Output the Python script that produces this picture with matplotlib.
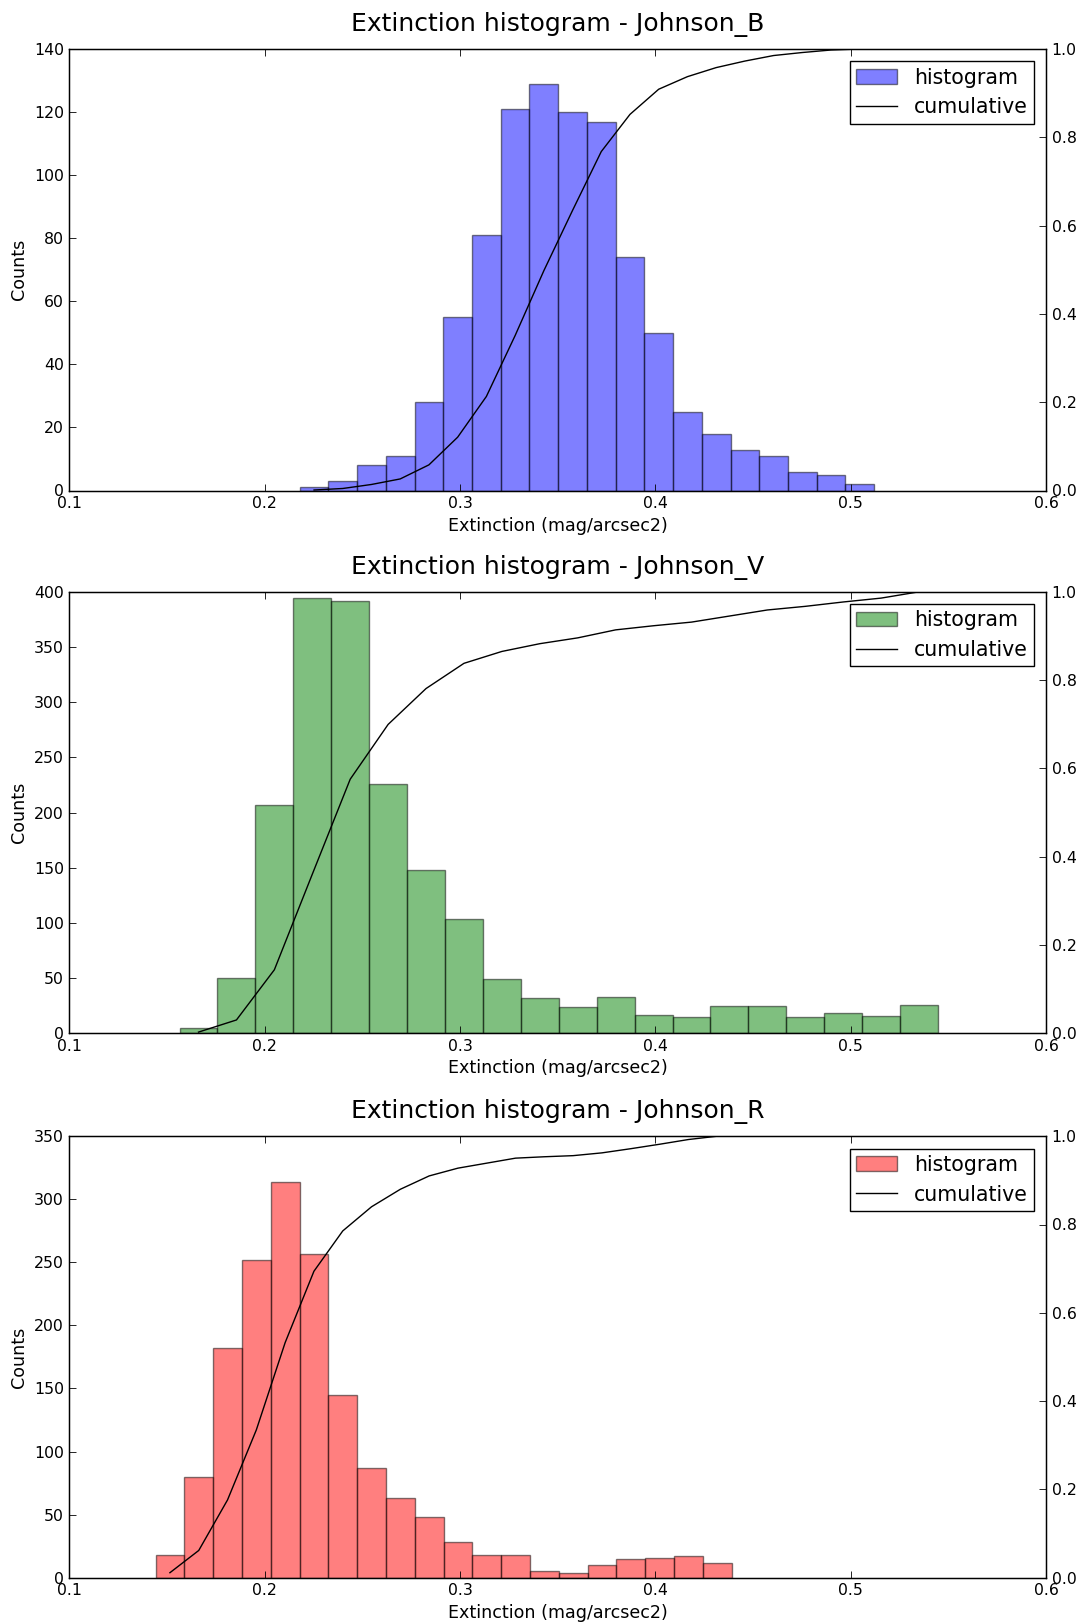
import numpy as np
import matplotlib
matplotlib.use('Agg')
import matplotlib.pyplot as plt
from matplotlib.patches import Patch
from matplotlib.lines import Line2D

plt.rcParams['font.family'] = ['DejaVu Sans']

# ---- data ----
filters = ['Johnson_B', 'Johnson_V', 'Johnson_R']
bar_colors = ['b', 'g', 'r']

B_range = (0.2179, 0.5120)
B_counts = [1, 3, 8, 11, 28, 55, 81, 121, 129, 120, 117, 74, 50, 25, 18, 13, 11, 6, 5, 2]

V_range = (0.1564, 0.5447)
V_counts = [5, 50, 207, 394, 392, 226, 148, 104, 49, 32, 24, 33, 17, 15, 25, 25, 15, 18, 16, 26]

R_range = (0.1441, 0.4390)
R_counts = [18, 80, 182, 252, 314, 257, 145, 87, 63, 48, 28, 18, 18, 5, 4, 10, 15, 16, 17, 12]

y_max = [140, 400, 350]
y_step = [20, 50, 50]
x_ticks = [0.1, 0.2, 0.3, 0.4, 0.5, 0.6]
cum_ticks = [0.0, 0.2, 0.4, 0.6, 0.8, 1.0]

ranges = [B_range, V_range, R_range]
counts_all = [B_counts, V_counts, R_counts]

W, H = 1085, 1622
fig = plt.figure(figsize=(W / 100, H / 100), dpi=100)

left = 69.4 / W
width = (1046 - 69.4) / W
height = 441.5 / H
bottoms = [1 - 490.5 / H, 1 - 1033.3 / H, 1 - 1577.7 / H]

TICK_FS = 11.3
LABEL_FS = 12.6
TITLE_FS = 18
LEG_FS = 14.8

for i in range(3):
    ax = fig.add_axes([left, bottoms[i], width, height])
    counts = np.array(counts_all[i], dtype=float)
    edges = np.linspace(ranges[i][0], ranges[i][1], len(counts) + 1)
    centers = 0.5 * (edges[:-1] + edges[1:])
    ax.hist(centers, bins=edges, weights=counts, color=bar_colors[i], alpha=0.5,
            edgecolor='k', linewidth=1.0)
    ax.set_xlim(0.1, 0.6)
    ax.set_ylim(0, y_max[i])
    ax.set_xticks(x_ticks)
    ax.set_xticklabels(['%.1f' % v for v in x_ticks])
    ax.set_yticks(np.arange(0, y_max[i] + 1, y_step[i]))
    ax.tick_params(direction='in', top=True, bottom=True, left=True, right=False,
                   length=5, width=0.6, labelsize=TICK_FS, pad=4)
    ax.set_xlabel('Extinction (mag/arcsec2)', fontsize=LABEL_FS, labelpad=4)
    ax.set_ylabel('Counts', fontsize=LABEL_FS)
    ax.set_title('Extinction histogram - ' + filters[i], fontsize=TITLE_FS, pad=13)
    for s in ax.spines.values():
        s.set_linewidth(1.0)

    ax2 = ax.twinx()
    cum = np.cumsum(counts) / counts.sum()
    ax2.plot(centers, cum, color='k', linewidth=1.0)
    ax2.set_ylim(0, 1.0)
    ax2.set_yticks(cum_ticks)
    ax2.set_yticklabels(['%.1f' % v for v in cum_ticks])
    ax2.tick_params(direction='in', right=True, left=False, length=5, width=0.6,
                    labelsize=TICK_FS, pad=4)
    ax2.set_xlim(0.1, 0.6)

    handles = [Patch(facecolor=bar_colors[i], alpha=0.5, edgecolor='k', linewidth=1.0),
               Line2D([], [], color='k', linewidth=1.0)]
    leg = ax2.legend(handles, ['histogram', 'cumulative'], loc='upper right',
                     fontsize=LEG_FS, fancybox=False, framealpha=1.0,
                     borderaxespad=0.6, handlelength=2.0, borderpad=0.3,
                     labelspacing=0.48, handletextpad=0.8)
    leg.get_frame().set_edgecolor('k')
    leg.get_frame().set_linewidth(1.0)

fig.savefig('out.png', dpi=100)
